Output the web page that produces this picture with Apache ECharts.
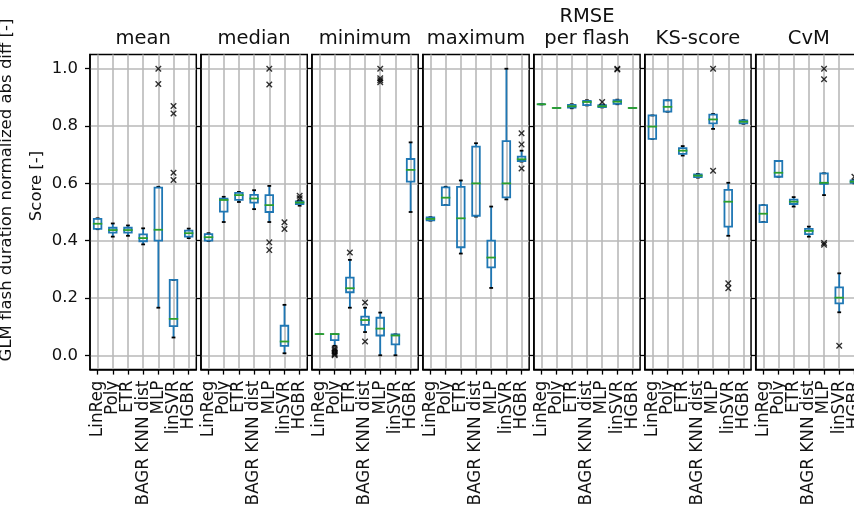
<!DOCTYPE html>
<html>
<head>
<meta charset="utf-8">
<script src="https://cdn.jsdelivr.net/npm/echarts@6/dist/echarts.min.js"></script>
<style>
  html, body { margin: 0; padding: 0; background: #fff; }
  #chart { width: 854px; height: 514px; }
</style>
</head>
<body>
<div id="chart"></div>
<script>
// Regression models compared in every panel
const models = ['LinReg', 'Poly', 'ETR', 'BAGR KNN dist', 'MLP', 'linSVR', 'HGBR'];
const panelTitles = ['mean', 'median', 'minimum', 'maximum', 'RMSE\nper flash', 'KS-score', 'CvM'];
const yTicks = [0, 0.2, 0.4, 0.6, 0.8, 1.0];
const yTickLabels = ['0.0', '0.2', '0.4', '0.6', '0.8', '1.0'];

// Box statistics per model: [lower whisker, Q1, median, Q3, upper whisker]
const meanBoxes = [
  [0.440, 0.441, 0.459, 0.476, 0.478],
  [0.414, 0.428, 0.437, 0.445, 0.460],
  [0.417, 0.428, 0.437, 0.445, 0.453],
  [0.387, 0.398, 0.409, 0.422, 0.443],
  [0.166, 0.400, 0.438, 0.585, 0.588],
  [0.062, 0.102, 0.127, 0.263, 0.263],
  [0.409, 0.414, 0.426, 0.435, 0.442]
];
const meanFliers = [['MLP', 1.0], ['MLP', 0.947], ['linSVR', 0.870], ['linSVR', 0.844], ['linSVR', 0.637], ['linSVR', 0.612]];

const medianBoxes = [
  [0.399, 0.400, 0.412, 0.423, 0.426],
  [0.465, 0.501, 0.542, 0.547, 0.553],
  [0.535, 0.542, 0.559, 0.567, 0.570],
  [0.510, 0.533, 0.547, 0.560, 0.576],
  [0.465, 0.500, 0.524, 0.559, 0.591],
  [0.007, 0.033, 0.048, 0.103, 0.176],
  [0.522, 0.528, 0.533, 0.537, 0.540]
];
const medianFliers = [['MLP', 1.0], ['MLP', 0.945], ['MLP', 0.394], ['MLP', 0.367], ['linSVR', 0.464], ['linSVR', 0.441], ['HGBR', 0.557], ['HGBR', 0.548]];

const minimumBoxes = [
  [0.074, 0.074, 0.074, 0.074, 0.074],
  [0.033, 0.053, 0.074, 0.074, 0.074],
  [0.166, 0.220, 0.234, 0.271, 0.333],
  [0.081, 0.106, 0.123, 0.135, 0.166],
  [0.000, 0.069, 0.093, 0.131, 0.149],
  [0.000, 0.038, 0.069, 0.073, 0.073],
  [0.500, 0.606, 0.647, 0.685, 0.743]
];
const minimumFliers = [['Poly', 0.024], ['Poly', 0.019], ['Poly', 0.014], ['Poly', 0.009], ['Poly', 0.004], ['Poly', 0.0],
  ['ETR', 0.359], ['BAGR KNN dist', 0.184], ['BAGR KNN dist', 0.048],
  ['MLP', 1.0], ['MLP', 0.967], ['MLP', 0.960], ['MLP', 0.953]];

const maximumBoxes = [
  [0.470, 0.471, 0.476, 0.481, 0.482],
  [0.524, 0.524, 0.550, 0.586, 0.588],
  [0.355, 0.377, 0.478, 0.588, 0.610],
  [0.484, 0.487, 0.600, 0.728, 0.740],
  [0.235, 0.307, 0.341, 0.400, 0.519],
  [0.544, 0.551, 0.600, 0.747, 1.000],
  [0.676, 0.678, 0.684, 0.693, 0.714]
];
const maximumFliers = [['HGBR', 0.775], ['HGBR', 0.736], ['HGBR', 0.652]];

const rmseBoxes = [
  [0.876, 0.876, 0.876, 0.876, 0.876],
  [0.863, 0.863, 0.863, 0.863, 0.863],
  [0.862, 0.864, 0.869, 0.874, 0.876],
  [0.872, 0.873, 0.884, 0.888, 0.890],
  [0.865, 0.866, 0.869, 0.873, 0.874],
  [0.876, 0.877, 0.885, 0.890, 0.892],
  [0.863, 0.863, 0.863, 0.863, 0.863]
];
const rmseFliers = [['MLP', 0.884], ['linSVR', 1.0], ['linSVR', 0.997]];

const ksBoxes = [
  [0.755, 0.755, 0.798, 0.837, 0.837],
  [0.850, 0.850, 0.867, 0.890, 0.890],
  [0.697, 0.703, 0.714, 0.723, 0.730],
  [0.620, 0.622, 0.627, 0.631, 0.633],
  [0.790, 0.809, 0.823, 0.840, 0.842],
  [0.417, 0.449, 0.536, 0.577, 0.602],
  [0.808, 0.809, 0.815, 0.820, 0.821]
];
const ksFliers = [['MLP', 1.0], ['MLP', 0.644], ['linSVR', 0.251], ['linSVR', 0.234]];

const cvmBoxes = [
  [0.465, 0.465, 0.494, 0.524, 0.524],
  [0.623, 0.623, 0.637, 0.678, 0.678],
  [0.519, 0.528, 0.536, 0.543, 0.552],
  [0.414, 0.423, 0.434, 0.441, 0.449],
  [0.559, 0.598, 0.602, 0.635, 0.635],
  [0.150, 0.181, 0.201, 0.237, 0.286],
  [0.600, 0.602, 0.606, 0.610, 0.612]
];
const cvmFliers = [['MLP', 1.0], ['MLP', 0.963], ['MLP', 0.392], ['MLP', 0.386], ['linSVR', 0.033], ['HGBR', 0.623]];

const panelBoxes = [meanBoxes, medianBoxes, minimumBoxes, maximumBoxes, rmseBoxes, ksBoxes, cvmBoxes];
const panelFliers = [meanFliers, medianFliers, minimumFliers, maximumFliers, rmseFliers, ksFliers, cvmFliers];

// ---- styling / layout ----
const FONT = '"DejaVu Sans", sans-serif';
const BLUE = '#1f77b4';
const GREEN = '#2ca02c';
const GRIDLINE = '#b9b9b9';
const LW = 1.8;
const PANEL_LEFT = 90, PANEL_STEP = 110.95, PANEL_W = 106.3, PANEL_TOP = 54.4, PANEL_H = 315.2;
const X_MIN = -0.5, X_MAX = 6.5;
const X_MARK = 'path://M0,1.5L1.5,0L5,3.5L8.5,0L10,1.5L6.5,5L10,8.5L8.5,10L5,6.5L1.5,10L0,8.5L3.5,5Z';
const modelPositions = models.map((m, k) => k);
// blank labels at both axis ends keep every model name clear of the min/max label handling
const labelPositions = [X_MIN].concat(modelPositions, [X_MAX]);

// One box-and-whisker glyph: blue box and whiskers, black caps, green median
function renderBox(params, api) {
  const x = api.value(0);
  const lo = api.value(1), q1 = api.value(2), med = api.value(3), q3 = api.value(4), hi = api.value(5);
  const unit = api.size([1, 0])[0];
  const bw = unit * 0.5, cw = unit * 0.25;
  const pLo = api.coord([x, lo]), pQ1 = api.coord([x, q1]), pMed = api.coord([x, med]);
  const pQ3 = api.coord([x, q3]), pHi = api.coord([x, hi]);
  const cx = pMed[0];
  const seg = (x1, y1, x2, y2, color) => ({
    type: 'line', shape: { x1, y1, x2, y2 }, style: { stroke: color, lineWidth: LW }
  });
  return {
    type: 'group',
    children: [
      seg(cx, pQ3[1], cx, pHi[1], BLUE),
      seg(cx, pQ1[1], cx, pLo[1], BLUE),
      seg(cx - cw / 2, pHi[1], cx + cw / 2, pHi[1], '#000'),
      seg(cx - cw / 2, pLo[1], cx + cw / 2, pLo[1], '#000'),
      {
        type: 'rect',
        shape: { x: cx - bw / 2, y: pQ3[1], width: bw, height: pQ1[1] - pQ3[1] },
        style: { fill: 'none', stroke: BLUE, lineWidth: LW }
      },
      seg(cx - bw / 2 - 0.9, pMed[1], cx + bw / 2 + 0.9, pMed[1], GREEN)
    ]
  };
}

const grids = [], xAxes = [], yAxes = [], series = [], graphics = [];

panelTitles.forEach((title, i) => {
  const left = PANEL_LEFT + PANEL_STEP * i;
  grids.push({
    left: left, top: PANEL_TOP, width: PANEL_W, height: PANEL_H,
    outerBoundsMode: 'none', containLabel: false,
    show: true, borderColor: '#000', borderWidth: 1.5, backgroundColor: 'transparent'
  });
  xAxes.push({
    type: 'value', gridIndex: i, min: X_MIN, max: X_MAX, position: 'bottom',
    axisLine: { show: true, onZero: false, lineStyle: { color: '#000', width: 1.5 } },
    axisTick: { show: true, length: 5, customValues: modelPositions, lineStyle: { color: '#000', width: 1.3 } },
    axisLabel: {
      show: true, rotate: 90, margin: 11, customValues: labelPositions, hideOverlap: false,
      fontFamily: FONT, fontSize: 16.8, color: '#111',
      formatter: v => {
        const k = Math.round(v);
        return Math.abs(v - k) < 1e-9 && models[k] !== undefined ? models[k] : '';
      }
    },
    splitLine: { show: true, lineStyle: { color: GRIDLINE, width: 1.6 } }
  });
  yAxes.push({
    type: 'value', gridIndex: i, min: -0.05, max: 1.05, position: 'left',
    axisLine: { show: true, onZero: false, lineStyle: { color: '#000', width: 1.5 } },
    axisTick: { show: true, length: 5, customValues: yTicks, lineStyle: { color: '#000', width: 1.3 } },
    axisLabel: {
      show: i === 0, customValues: yTicks, margin: 12,
      fontFamily: FONT, fontSize: 16.5, color: '#111',
      formatter: v => yTickLabels[yTicks.findIndex(t => Math.abs(t - v) < 1e-9)]
    },
    splitLine: { show: true, lineStyle: { color: GRIDLINE, width: 1.6 } }
  });
  series.push({
    type: 'custom', xAxisIndex: i, yAxisIndex: i, z: 3,
    renderItem: renderBox,
    data: panelBoxes[i].map((b, k) => [k].concat(b)),
    encode: { x: 0, y: [1, 2, 3, 4, 5] }
  });
  series.push({
    type: 'scatter', xAxisIndex: i, yAxisIndex: i, z: 4,
    symbol: X_MARK, symbolSize: 6.5,
    itemStyle: { color: '#000' },
    data: panelFliers[i].map(f => [models.indexOf(f[0]), f[1]])
  });
  graphics.push({
    type: 'text', x: left + PANEL_W / 2, y: 50,
    style: {
      text: title, font: '19.5px ' + FONT, fill: '#111', lineHeight: 22,
      textAlign: 'center', textVerticalAlign: 'bottom', align: 'center', verticalAlign: 'bottom'
    }
  });
});

// y-axis captions
graphics.push({
  type: 'text', x: 15, y: 190, rotation: Math.PI / 2,
  style: {
    text: 'GLM flash duration normalized abs diff [-]', font: '16.5px ' + FONT, fill: '#111',
    textAlign: 'center', textVerticalAlign: 'bottom', align: 'center', verticalAlign: 'bottom'
  }
});
graphics.push({
  type: 'text', x: 45, y: 186, rotation: Math.PI / 2,
  style: {
    text: 'Score [-]', font: '16.5px ' + FONT, fill: '#111',
    textAlign: 'center', textVerticalAlign: 'bottom', align: 'center', verticalAlign: 'bottom'
  }
});

const chart = echarts.init(document.getElementById('chart'), null, { renderer: 'canvas' });
chart.setOption({
  animation: false,
  backgroundColor: '#fff',
  grid: grids,
  xAxis: xAxes,
  yAxis: yAxes,
  series: series,
  graphic: graphics
});
</script>
</body>
</html>
